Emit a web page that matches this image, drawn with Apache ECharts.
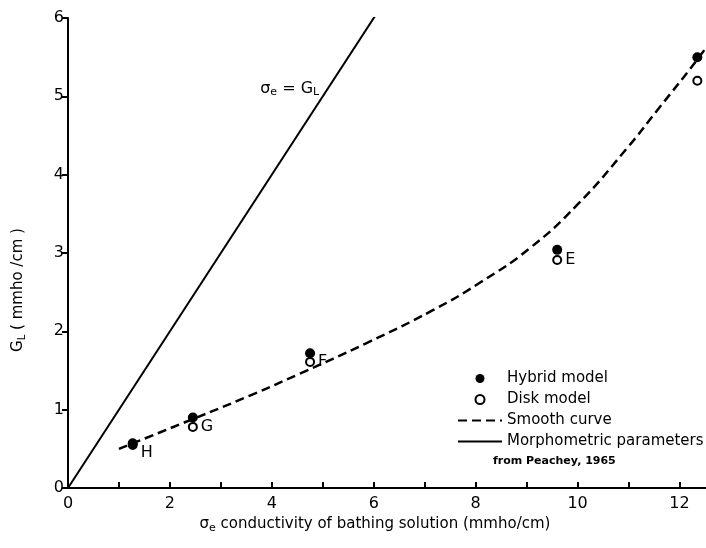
<!DOCTYPE html>
<html>
<head>
<meta charset="utf-8">
<script src="https://cdn.jsdelivr.net/npm/echarts@6/dist/echarts.min.js"></script>
<style>
html,body{margin:0;padding:0;background:#fff;}
#chart{width:706px;height:548px;}
</style>
</head>
<body>
<div id="chart"></div>
<script>
// ---- data ----
var pointLabels = ['H', 'G', 'F', 'E', 'D'];
var conductivity = [1.27, 2.45, 4.75, 9.6, 12.35];
var hybridGL = [0.57, 0.90, 1.72, 3.04, 5.50];
var diskGL = [0.55, 0.78, 1.61, 2.91, 5.20];
var curveX = [1.0, 2.45, 3.57, 4.55, 5.86, 7.16, 8.08, 9.06, 10.0, 10.96, 11.61, 12.35, 12.6];
var curveY = [0.50, 0.88, 1.18, 1.46, 1.85, 2.27, 2.62, 3.06, 3.62, 4.33, 4.86, 5.47, 5.70];
var morphX = [0, 6.05];
var morphY = [0, 6.05];
var xTicks = [0, 2, 4, 6, 8, 10, 12];
var yTicks = [0, 1, 2, 3, 4, 5, 6];

function zip(a, b) { return a.map(function (v, i) { return [v, b[i]]; }); }

var FONT = 'DejaVu Sans';
var chart = echarts.init(document.getElementById('chart'), null, {renderer: 'canvas'});

var option = {
  backgroundColor: '#fff',
  animation: false,
  textStyle: {fontFamily: FONT, color: '#000'},
  grid: {left: 68, right: 0, top: 18, bottom: 60, containLabel: false},
  xAxis: {
    type: 'value', min: 0, max: 12.52, interval: 1,
    axisLine: {lineStyle: {color: '#000', width: 2}},
    axisTick: {inside: true, length: 6, lineStyle: {color: '#000', width: 2}},
    axisLabel: {
      color: '#000', fontSize: 16, fontFamily: FONT, margin: 8, showMaxLabel: false,
      formatter: function (v) { return xTicks.indexOf(v) >= 0 ? String(v) : ''; }
    },
    splitLine: {show: false}
  },
  yAxis: {
    type: 'value', min: 0, max: 6, interval: 1,
    axisLine: {lineStyle: {color: '#000', width: 2}},
    axisTick: {inside: false, length: 6, lineStyle: {color: '#000', width: 2}},
    axisLabel: {
      color: '#000', fontSize: 16, fontFamily: FONT, margin: 4,
      formatter: function (v) { return yTicks.indexOf(v) >= 0 ? String(v) : ''; }
    },
    splitLine: {show: false}
  },
  legend: {
    orient: 'vertical', left: 452, top: 366,
    itemWidth: 44, itemHeight: 9, itemGap: 6,
    textStyle: {fontSize: 15, fontFamily: FONT, color: '#000'},
    data: [
      'Hybrid model',
      'Disk model',
      {name: 'Smooth curve', itemStyle: {opacity: 0}},
      {name: 'Morphometric parameters', itemStyle: {opacity: 0}}
    ]
  },
  graphic: [
    {type: 'text', left: 493, top: 456, style: {text: 'from Peachey, 1965', font: 'bold 11px ' + FONT, fill: '#000'}},
    {type: 'text', x: 18, y: 290, rotation: Math.PI / 2,
      style: {
        text: '{g|G}{s|L}{g| ( mmho /cm )}', align: 'center', verticalAlign: 'middle',
        rich: {
          g: {fontSize: 15, fontFamily: FONT, fill: '#000', lineHeight: 20},
          s: {fontSize: 10, fontFamily: FONT, fill: '#000', lineHeight: 20, padding: [8, 0, 0, 0]}
        }
      }},
    {type: 'text', x: 375, y: 524,
      style: {
        text: '{g|σ}{s|e}{g| conductivity of bathing solution (mmho/cm)}', align: 'center', verticalAlign: 'middle',
        rich: {
          g: {fontSize: 15, fontFamily: FONT, fill: '#000', lineHeight: 20},
          s: {fontSize: 11, fontFamily: FONT, fill: '#000', lineHeight: 20, padding: [8, 0, 0, 0]}
        }
      }}
  ],
  series: [
    {
      name: 'Morphometric parameters', type: 'line', data: zip(morphX, morphY),
      symbol: 'none', lineStyle: {color: '#000', width: 2, type: 'solid'}, itemStyle: {color: '#000'},
      z: 2,
      markPoint: {
        symbol: 'circle', symbolSize: 0,
        data: [{coord: [4.35, 5.1]}],
        label: {
          show: true, position: 'inside',
          formatter: '{g|σ}{s|e}{g| = G}{s|L}',
          rich: {
            g: {fontSize: 16, fontFamily: FONT, color: '#000', lineHeight: 20},
            s: {fontSize: 11, fontFamily: FONT, color: '#000', lineHeight: 20, padding: [8, 0, 0, 0]}
          }
        }
      }
    },
    {
      name: 'Smooth curve', type: 'line', data: zip(curveX, curveY), smooth: 0.5,
      symbol: 'none', lineStyle: {color: '#000', width: 2.5, type: [9, 5]}, itemStyle: {color: '#000'},
      z: 2
    },
    {
      name: 'Disk model', type: 'scatter',
      data: conductivity.map(function (x, i) { return {value: [x, diskGL[i]], name: pointLabels[i]}; }),
      symbol: 'emptyCircle', symbolSize: 8,
      itemStyle: {color: '#000', borderColor: '#000', borderWidth: 2, opacity: 1},
      label: {
        show: true, position: 'right', distance: 3, formatter: '{b}',
        fontSize: 16, fontFamily: FONT, color: '#000'
      },
      labelLayout: function (p) { return p.dataIndex === 0 ? {dy: 8} : {}; },
      z: 3
    },
    {
      name: 'Hybrid model', type: 'scatter', data: zip(conductivity, hybridGL),
      symbol: 'circle', symbolSize: 10,
      itemStyle: {color: '#000', opacity: 1},
      z: 4
    }
  ]
};
chart.setOption(option);
</script>
</body>
</html>
